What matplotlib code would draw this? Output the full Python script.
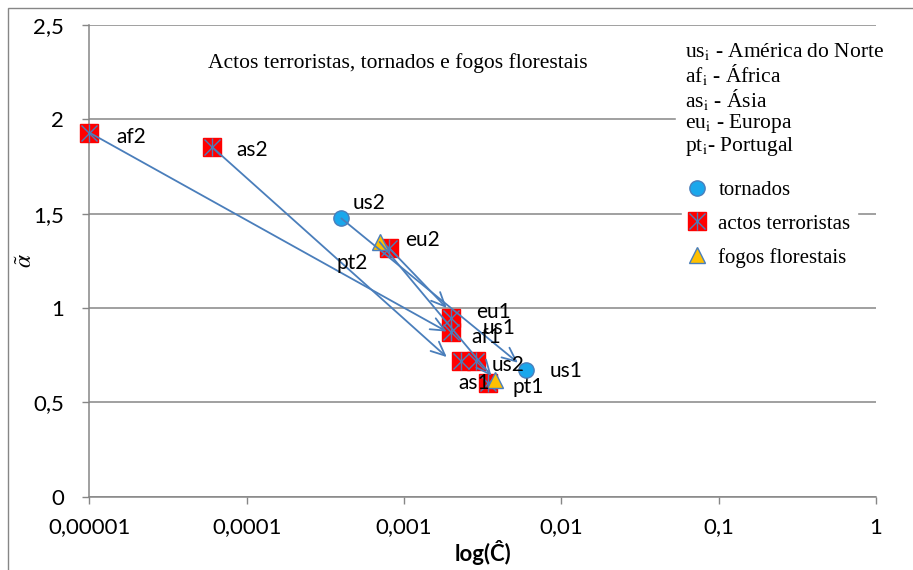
import matplotlib
matplotlib.use("Agg")
import matplotlib.pyplot as plt
from matplotlib.lines import Line2D
from matplotlib.patches import Rectangle
from matplotlib.ticker import FixedLocator, NullLocator

# actos terroristas
terror_labels = ['af2', 'as2', 'eu2', 'eu1', 'af1', 'as1', 'us2', 'us1']
terror_x = [1.0e-5, 6.0e-5, 8.0e-4, 2.0e-3, 2.0e-3, 2.3e-3, 2.85e-3, 3.4e-3]
terror_y = [1.93, 1.855, 1.32, 0.945, 0.875, 0.72, 0.72, 0.60]

# tornados
tornado_labels = ['us2', 'us1']
tornado_x = [4.0e-4, 6.0e-3]
tornado_y = [1.475, 0.67]

# fogos florestais
fire_labels = ['pt2', 'pt1']
fire_x = [7.0e-4, 3.8e-3]
fire_y = [1.35, 0.62]

# setas (periodo 2 -> periodo 1)
arrow_from_x = [1.0e-5, 6.0e-5, 4.0e-4, 8.0e-4, 7.0e-4]
arrow_from_y = [1.93, 1.855, 1.475, 1.32, 1.35]
arrow_to_x = [1.87e-3, 1.87e-3, 5.3e-3, 1.87e-3, 3.6e-3]
arrow_to_y = [0.875, 0.74, 0.71, 1.0, 0.64]

x_ticks = [1e-5, 1e-4, 1e-3, 1e-2, 1e-1, 1]
x_ticklabels = ['0,00001', '0,0001', '0,001', '0,01', '0,1', '1']
y_ticks = [0, 0.5, 1, 1.5, 2, 2.5]
y_ticklabels = ['0', '0,5', '1', '1,5', '2', '2,5']

regions = [r'us$_{\rm i}$ - América do Norte', r'af$_{\rm i}$ - África',
           r'as$_{\rm i}$ - Ásia', r'eu$_{\rm i}$ - Europa', r'pt$_{\rm i}$- Portugal']

# deslocamento dos rotulos em pixeis (dx, dy para baixo)
terror_offsets = [(27, 4), (25, 3), (16, -8), (25, -6), (20, 5), (-3, 22), (16, 4), (-5, -55)]
tornado_offsets = [(11, -15), (23, 1)]
fire_offsets = [(-43, 21), (17, 7)]

GRID = '#868686'
BLUE = '#4A7EBB'
plt.rcParams['mathtext.fontset'] = 'stix'

W, H = 913, 570
fig = plt.figure(figsize=(W / 100, H / 100), dpi=100)
fig.subplots_adjust(left=89.3 / W, right=876 / W, bottom=(H - 496.7) / H, top=(H - 25) / H)
ax = fig.add_subplot(111)

ax.set_xscale('log')
ax.set_xlim(1e-5, 1)
ax.set_ylim(0, 2.5)
ax.xaxis.set_major_locator(FixedLocator(x_ticks))
ax.xaxis.set_minor_locator(NullLocator())
ax.set_xticklabels(x_ticklabels)
ax.set_yticks(y_ticks)
ax.set_yticklabels(y_ticklabels)
for lab in ax.get_xticklabels() + ax.get_yticklabels():
    lab.set_family('Lato')
ax.tick_params(axis='both', direction='out', length=5, width=1, color=GRID, labelsize=16)
ax.tick_params(axis='y', pad=13)
ax.tick_params(axis='x', pad=10)
ax.grid(True, axis='y', color=GRID, lw=1.1)
ax.set_axisbelow(True)
for s in ['top', 'right']:
    ax.spines[s].set_visible(False)
for s in ['left', 'bottom']:
    ax.spines[s].set_color(GRID)
    ax.spines[s].set_linewidth(1.1)

sq, = ax.plot(terror_x, terror_y, 's', ms=13, mfc='#FF0000', mec='#FF0000', zorder=3, clip_on=False)
st1, = ax.plot(terror_x, terror_y, 'x', ms=11, mec=BLUE, mew=1, zorder=3, clip_on=False)
st2, = ax.plot(terror_x, terror_y, '|', ms=13, mec=BLUE, mew=1, zorder=3, clip_on=False)
circ, = ax.plot(tornado_x, tornado_y, 'o', ms=11, mfc='#1AA7EC', mec=BLUE, mew=1, zorder=4)
tri, = ax.plot(fire_x, fire_y, '^', ms=12, mfc='#FFC000', mec=BLUE, mew=1, zorder=5)

for x0, y0, x1, y1 in zip(arrow_from_x, arrow_from_y, arrow_to_x, arrow_to_y):
    ax.annotate('', xy=(x1, y1), xytext=(x0, y0), zorder=6,
                arrowprops=dict(arrowstyle='->,head_length=1.0,head_width=0.45',
                                color=BLUE, lw=1.3, shrinkA=0, shrinkB=0))

def put_labels(names, xs, ys, offs):
    for n, x, y, (dx, dy) in zip(names, xs, ys, offs):
        ax.annotate(n, (x, y), xytext=(dx * 0.72, -dy * 0.72), textcoords='offset points',
                    ha='left', va='center', fontsize=15, family='Lato', zorder=7)

put_labels(terror_labels, terror_x, terror_y, terror_offsets)
put_labels(tornado_labels, tornado_x, tornado_y, tornado_offsets)
put_labels(fire_labels, fire_x, fire_y, fire_offsets)

ax.set_xlabel('log(Ĉ)', fontsize=16, fontweight='bold', family='Lato', labelpad=2)
fig.text(25 / W, 1 - 261 / H, r'$\tilde{\alpha}$', rotation=90, fontsize=17,
         ha='center', va='center')
fig.text(398 / W, 1 - 63 / H, 'Actos terroristas, tornados e fogos florestais',
         fontsize=15.5, family='Liberation Serif', ha='center', va='center')

# legenda das regioes
blank = [Line2D([], [], linestyle='none') for _ in regions]
leg1 = ax.legend(blank, regions, loc='upper left', bbox_to_anchor=(676 / W, 1 - 32 / H),
                 bbox_transform=fig.transFigure, handlelength=0, handletextpad=0,
                 borderpad=0.4, borderaxespad=0, labelspacing=0.0, frameon=True,
                 fancybox=False, framealpha=1, edgecolor='white',
                 prop={'family': 'Liberation Serif', 'size': 15.5})
ax.add_artist(leg1)

# legenda dos marcadores
leg2 = ax.legend([circ, (sq, st1, st2), tri], ['tornados', 'actos terroristas', 'fogos florestais'],
                 loc='upper left', bbox_to_anchor=(682 / W, 1 - 174 / H),
                 bbox_transform=fig.transFigure, handlelength=0.85, handletextpad=0.6,
                 borderpad=0.3, borderaxespad=0, labelspacing=0.68, frameon=True,
                 fancybox=False, framealpha=1, edgecolor='white',
                 prop={'family': 'Liberation Serif', 'size': 15})

fig.patches.append(Rectangle((8 / W, -0.05), 1.1, 1 - 8 / H + 0.05, transform=fig.transFigure,
                             fill=False, edgecolor=GRID, lw=1))

fig.savefig('out.png', dpi=100)
